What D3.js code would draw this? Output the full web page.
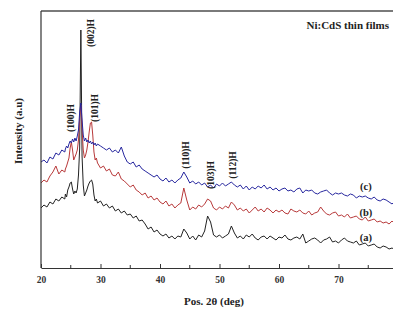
<!DOCTYPE html>
<html>
<head>
<meta charset="utf-8">
<script src="https://cdn.jsdelivr.net/npm/d3@7"></script>
<style>
  body { margin: 0; background: #fff; }
  svg { display: block; }
</style>
</head>
<body>
<div id="chart"></div>
<script>
// 2theta grid (deg)
const angles = [
  20, 20.5, 21, 21.5, 22, 22.5, 23, 23.5, 24,
  24.1, 24.3, 24.5, 24.7, 24.9, 25.1, 25.3, 25.5, 25.7, 25.9,
  26.1, 26.3, 26.5, 26.7, 26.9, 27.1, 27.3, 27.5, 27.7, 27.9,
  28.1, 28.3, 28.5, 28.7, 28.9, 29.1, 29.3, 29.5,
  30, 30.5, 31, 31.5, 32, 32.5, 33, 33.5, 34, 34.5,
  35, 35.5, 36, 36.5, 37, 37.5, 38, 38.5, 39, 39.5,
  40, 40.5, 41, 41.5, 42, 42.5, 43, 43.5, 44, 44.5,
  45, 45.5, 46, 46.5, 47, 47.5, 48, 48.5, 49, 49.5,
  50, 50.5, 51, 51.5, 52, 52.5, 53, 53.5, 54, 54.5,
  55, 55.5, 56, 56.5, 57, 57.5, 58, 58.5, 59, 59.5,
  60, 60.5, 61, 61.5, 62, 62.5, 63, 63.5, 64, 64.5,
  65, 65.5, 66, 66.5, 67, 67.5, 68, 68.5, 69, 69.5,
  70, 70.5, 71, 71.5, 72, 72.5, 73, 73.5, 74, 74.5,
  75, 75.5, 76, 76.5, 77, 77.5, 78, 78.5, 79, 79.5,
  80
];

// intensities (a.u.)
const filmA = [
  60, 63, 61, 66, 64, 69, 67, 71, 69,
  74, 71, 78, 81, 85, 86, 79, 74, 77, 75,
  79, 93, 120, 238, 112, 83, 72, 75, 78, 82,
  85, 87, 88, 84, 73, 67, 69, 65,
  67, 62, 64, 60, 62, 57, 59, 55, 57, 53,
  54, 50, 52, 47, 48, 44, 39, 41, 36, 38,
  34, 32, 34, 30, 32, 29, 32, 31, 39, 35,
  29, 32, 28, 33, 31, 37, 52, 46, 33, 31,
  33, 30, 32, 34, 42, 35, 30, 32, 29, 33,
  31, 34, 30, 28, 31, 32, 29, 32, 30, 28,
  31, 30, 33, 29, 28, 30, 31, 29, 34, 25,
  27, 29, 30, 28, 25, 28, 29, 31, 26, 27,
  25, 28, 30, 27, 26, 25, 27, 23, 24, 25,
  22, 23, 24, 21, 20, 22, 21, 19, 20, 18,
  20
];

const filmB = [
  85, 88, 86, 92, 96, 102, 94, 98, 96,
  99, 102, 106, 110, 120, 126, 118, 108, 111, 114,
  118, 128, 150, 163, 140, 118, 110, 113, 118, 126,
  136, 145, 146, 133, 116, 108, 110, 105,
  100, 102, 97, 99, 93, 92, 96, 89, 87, 84,
  81, 83, 78, 76, 73, 75, 70, 72, 68, 70,
  66, 64, 67, 62, 64, 60, 63, 65, 80, 68,
  58, 61, 59, 63, 61, 64, 69, 67, 60, 58,
  61, 59, 62, 60, 66, 63, 58, 60, 57, 59,
  55, 58, 61, 57, 59, 56, 60, 58, 55, 58,
  56, 58, 55, 54, 59, 57, 56, 58, 55, 54,
  57, 53, 55, 56, 61, 57, 54, 53, 55, 56,
  52, 53, 51, 54, 50, 51, 52, 49, 48, 51,
  47, 48, 49, 46, 47, 45, 46, 44, 47, 44,
  46
];

const filmC = [
  106, 108, 105, 111, 109, 115, 113, 118, 116,
  119, 122, 120, 124, 127, 125, 129, 126, 130, 127,
  132, 138, 156, 165, 148, 133, 127, 130, 126, 128,
  125, 127, 124, 126, 123, 125, 122, 124,
  122, 120, 118, 120, 116, 118, 115, 121, 112, 106,
  104, 106, 101, 103, 99, 97, 95, 93, 91, 93,
  89, 87, 90, 86, 88, 85, 88, 90, 96, 91,
  85, 87, 84, 86, 83, 85, 81, 83, 80, 84,
  82, 85, 82, 84, 86, 83, 81, 83, 79, 82,
  78, 81, 79, 82, 80, 83, 79, 81, 78, 80,
  77, 79, 80, 77, 78, 76, 79, 80, 75, 78,
  77, 78, 75, 74, 76, 77, 78, 75, 73, 75,
  74, 75, 73, 72, 74, 73, 70, 72, 71, 72,
  70, 69, 71, 68, 67, 69, 68, 66, 64, 67,
  67
];

const seriesNames = ["(a)", "(b)", "(c)"];
const seriesColors = ["#222222", "#b8393a", "#27279f"];
const xTicks = [20, 30, 40, 50, 60, 70];
const xMinorTicks = [25, 35, 45, 55, 65, 75];

const peakNames = ["(100)H", "(002)H", "(101)H", "(110)H", "(103)H", "(112)H"];
const peakAngles = [25.1, 28.45, 29.1, 44.45, 48.65, 52.35];
const peakHeights = [150, 235, 160, 113, 93, 103];

const serif = "'Liberation Serif', 'Times New Roman', serif";

const margin = {top: 11, right: 0, bottom: 42, left: 41};
const width = 393, height = 310;
const plotW = 357, plotH = height - margin.top - margin.bottom;

const svg = d3.select("#chart").append("svg")
    .attr("width", width)
    .attr("height", height);

const x = d3.scaleLinear().domain([20, 80]).range([0, plotW]);
const y = d3.scaleLinear().domain([0, 257]).range([plotH, 0]);

const g = svg.append("g")
    .attr("transform", `translate(${margin.left},${margin.top})`);

g.append("clipPath").attr("id", "clip")
  .append("rect").attr("x", 0).attr("y", -2).attr("width", plotW).attr("height", plotH + 2);

// spectra
const line = d3.line()
    .x((d, i) => x(angles[i]))
    .y(d => y(d));

const plot = g.append("g").attr("clip-path", "url(#clip)");
[filmA, filmB, filmC].forEach((s, k) => {
  plot.append("path")
      .datum(s)
      .attr("fill", "none")
      .attr("stroke", seriesColors[k])
      .attr("stroke-width", 1)
      .attr("stroke-linejoin", "round")
      .attr("d", line);
});

// frame: top border (grey), left and bottom axes
g.append("line")
    .attr("x1", 0).attr("x2", width - margin.left)
    .attr("y1", 0).attr("y2", 0)
    .attr("stroke", "#7a7a7a").attr("stroke-width", 2);

g.append("line")
    .attr("x1", 0).attr("x2", 0)
    .attr("y1", 0).attr("y2", plotH)
    .attr("stroke", "#333").attr("stroke-width", 1.2);

const xAxis = g.append("g")
    .attr("transform", `translate(0,${plotH})`)
    .call(d3.axisBottom(x).tickValues(xTicks).tickSizeInner(-4).tickSizeOuter(0).tickPadding(8));
xAxis.select(".domain").attr("stroke", "#333").attr("stroke-width", 1.2);
xAxis.selectAll("line").attr("stroke", "#333");
xAxis.selectAll("text")
    .attr("font-family", serif)
    .attr("font-weight", "bold")
    .attr("font-size", 9.5)
    .attr("fill", "#333");

g.append("g")
    .attr("transform", `translate(0,${plotH})`)
    .selectAll("line")
    .data(xMinorTicks)
    .join("line")
    .attr("x1", d => x(d)).attr("x2", d => x(d))
    .attr("y1", 0).attr("y2", -3)
    .attr("stroke", "#333");

// axis titles
svg.append("text")
    .attr("x", 214)
    .attr("y", 305)
    .attr("text-anchor", "middle")
    .attr("font-family", serif)
    .attr("font-weight", "bold")
    .attr("font-size", 11)
    .attr("fill", "#222")
    .text("Pos. 2θ (deg)");

svg.append("text")
    .attr("transform", "translate(22,131) rotate(-90)")
    .attr("text-anchor", "middle")
    .attr("font-family", serif)
    .attr("font-weight", "bold")
    .attr("font-size", 11)
    .attr("fill", "#222")
    .text("Intensity (a.u)");

// title
svg.append("text")
    .attr("x", 389)
    .attr("y", 29)
    .attr("text-anchor", "end")
    .attr("font-family", serif)
    .attr("font-weight", "bold")
    .attr("font-size", 11)
    .attr("fill", "#222")
    .text("Ni:CdS thin films");

// peak labels
peakNames.forEach((name, i) => {
  g.append("text")
      .attr("transform", `translate(${x(peakAngles[i])},${y(peakHeights[i])}) rotate(-90)`)
      .attr("text-anchor", "middle")
      .attr("dominant-baseline", "central")
      .attr("font-family", serif)
      .attr("font-weight", "bold")
      .attr("font-size", 9.5)
      .attr("fill", "#222")
      .text(name);
});

// series labels
const labelAngle = 74.6;
const labelHeights = [31, 56, 82];
seriesNames.forEach((name, i) => {
  g.append("text")
      .attr("x", x(labelAngle))
      .attr("y", y(labelHeights[i]))
      .attr("text-anchor", "middle")
      .attr("dominant-baseline", "central")
      .attr("font-family", serif)
      .attr("font-weight", "bold")
      .attr("font-size", 10.5)
      .attr("fill", "#222")
      .text(name);
});
</script>
</body>
</html>
